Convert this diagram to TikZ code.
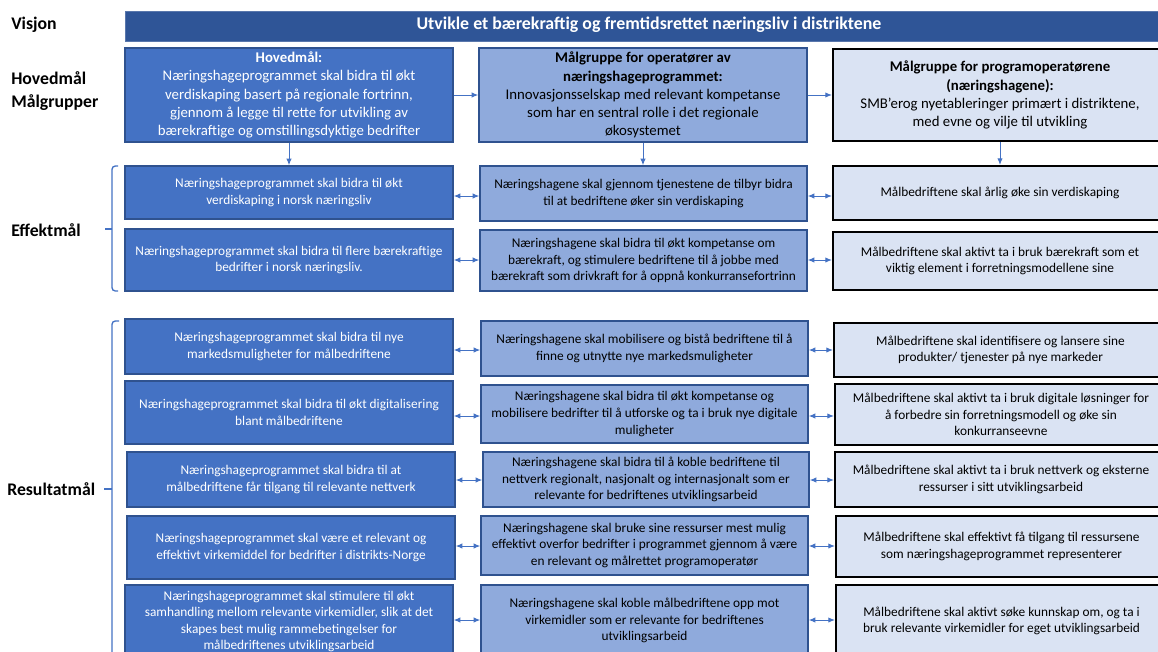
\documentclass[tikz,border=0pt]{standalone}
\usepackage{fontspec}
\setmainfont{Carlito}
\usetikzlibrary{arrows.meta,calc}
\definecolor{visblue}{HTML}{2F5597}
\definecolor{lblue}{HTML}{4472C4}
\definecolor{lborder}{HTML}{2F528F}
\definecolor{mblue}{HTML}{8FAADC}
\definecolor{rblue}{HTML}{DAE3F3}
\definecolor{arr}{HTML}{4472C4}
\newcommand\bx[7]{\node[#6, minimum width={(#4-#2)*0.75pt}, minimum height={(#5-#3)*0.75pt}] (#1) at ({(#2+#4)/2},{(#3+#5)/2}) {#7};}
\tikzset{
  basebox/.style={align=center, inner sep=0pt, font=\fontsize{10}{12.4}\selectfont},
  topfont/.style={font=\fontsize{11.1}{13.6}\selectfont},
  lbox/.style={basebox, draw=lborder, fill=lblue, line width=1pt, text=white},
  mbox/.style={basebox, draw=lborder, fill=mblue, line width=1pt, text=black},
  rbox/.style={basebox, draw=black, fill=rblue, line width=1.5pt, text=black},
  visbar/.style={fill=visblue, draw=visblue!80!white, line width=0.6pt, text=white, inner sep=0pt},
  sidelabel/.style={anchor=west, inner sep=0pt, font=\fontsize{13.3}{17.8}\selectfont\bfseries, align=left},
  conn/.style={draw=arr, line width=0.75pt, -{Latex[length=5pt,width=4pt]}},
  dconn/.style={draw=arr, line width=0.75pt, {Latex[length=5pt,width=4pt]}-{Latex[length=5pt,width=4pt]}},
  bracket/.style={draw=arr, line width=1pt, rounded corners=2.5pt},
}
\begin{document}
\begin{tikzpicture}[x=0.75pt,y=-0.75pt]
\useasboundingbox (0,0) rectangle (1158,651);
\clip (0,0) rectangle (1158,651);
\fill[white] (0,0) rectangle (1158,651);

% side labels
\node[sidelabel] (lvis) at (11,25) {Visjon};
\node[sidelabel] (lhov) at (11,91) {Hovedmål\\Målgrupper};
\node[sidelabel] (leff) at (11,230) {Effektmål};
\node[sidelabel] (lres) at (7,489) {Resultatmål};

% vision bar
\bx{vis}{125}{11}{1172}{41}{visbar}{\hspace*{0pt}}
\node[text=white, font=\fontsize{13.4}{16}\selectfont\bfseries, inner sep=0pt] (vistext) at (649,25) {Utvikle et bærekraftig og fremtidsrettet næringsliv i distriktene};

% top row
\bx{hm}{125}{48}{453}{142}{lbox,topfont}{\textbf{Hovedmål:}\\Næringshageprogrammet skal bidra til økt\\verdiskaping basert på regionale fortrinn,\\gjennom å legge til rette for utvikling av\\bærekraftige og omstillingsdyktige bedrifter}
\bx{mg1}{479}{48}{807}{142}{mbox,topfont}{\textbf{Målgruppe for operatører av}\\\textbf{næringshageprogrammet:}\\Innovasjonsselskap med relevant kompetanse\\som har en sentral rolle i det regionale\\økosystemet}
\bx{mg2}{833}{49}{1167}{141}{rbox,topfont}{\textbf{Målgruppe for programoperatørene}\\\textbf{(næringshagene):}\\SMB’erog nyetableringer primært i distriktene,\\med evne og vilje til utvikling}

% effektmål
\bx{e1l}{125}{166}{453}{219}{lbox}{Næringshageprogrammet skal bidra til økt\\verdiskaping i norsk næringsliv}
\bx{e1m}{480}{166}{807}{221}{mbox}{Næringshagene skal gjennom tjenestene de tilbyr bidra\\til at bedriftene øker sin verdiskaping}
\bx{e1r}{833}{166}{1167}{220}{rbox}{Målbedriftene skal årlig øke sin verdiskaping}
\bx{e2l}{125}{229}{453}{291}{lbox}{Næringshageprogrammet skal bidra til flere bærekraftige\\bedrifter i norsk næringsliv.}
\bx{e2m}{480}{230}{807}{291}{mbox}{Næringshagene skal bidra til økt kompetanse om\\bærekraft, og stimulere bedriftene til å jobbe med\\bærekraft som drivkraft for å oppnå konkurransefortrinn}
\bx{e2r}{833}{232}{1167}{290}{rbox}{Målbedriftene skal aktivt ta i bruk bærekraft som et\\viktig element i forretningsmodellene sine}

% resultatmål
\bx{r1l}{125}{319}{453}{374}{lbox}{Næringshageprogrammet skal bidra til nye\\markedsmuligheter for målbedriftene}
\bx{r1m}{481}{321}{808}{376}{mbox}{Næringshagene skal mobilisere og bistå bedriftene til å\\finne og utnytte nye markedsmuligheter}
\bx{r1r}{834}{323}{1167}{377}{rbox}{Målbedriftene skal identifisere og lansere sine\\produkter/ tjenester på nye markeder}
\bx{r2l}{125}{381}{453}{444}{lbox}{Næringshageprogrammet skal bidra til økt digitalisering\\blant målbedriftene}
\bx{r2m}{481}{385}{808}{443}{mbox}{Næringshagene skal bidra til økt kompetanse og\\mobilisere bedrifter til å utforske og ta i bruk nye digitale\\muligheter}
\bx{r2r}{835}{384}{1167}{445}{rbox}{Målbedriftene skal aktivt ta i bruk digitale løsninger for\\å forbedre sin forretningsmodell og øke sin\\konkurranseevne}
\bx{r3l}{127}{452}{455}{507}{lbox}{Næringshageprogrammet skal bidra til at\\målbedriftene får tilgang til relevante nettverk}
\bx{r3m}{483}{452}{809}{507}{mbox}{Næringshagene skal bidra til å koble bedriftene til\\nettverk regionalt, nasjonalt og internasjonalt som er\\relevante for bedriftenes utviklingsarbeid}
\bx{r3r}{835}{452}{1167}{507}{rbox}{Målbedriftene skal aktivt ta i bruk nettverk og eksterne\\ressurser i sitt utviklingsarbeid}
\bx{r4l}{127}{516}{455}{579}{lbox}{Næringshageprogrammet skal være et relevant og\\effektivt virkemiddel for bedrifter i distrikts-Norge}
\bx{r4m}{481}{516}{808}{575}{mbox}{Næringshagene skal bruke sine ressurser mest mulig\\effektivt overfor bedrifter i programmet gjennom å være\\en relevant og målrettet programoperatør}
\bx{r4r}{836}{516}{1167}{577}{rbox}{Målbedriftene skal effektivt få tilgang til ressursene\\som næringshageprogrammet representerer}
\bx{r5l}{125}{585}{453}{658}{lbox}{Næringshageprogrammet skal stimulere til økt\\samhandling mellom relevante virkemidler, slik at det\\skapes best mulig rammebetingelser for\\målbedriftenes utviklingsarbeid}
\bx{r5m}{481}{585}{808}{656}{mbox}{Næringshagene skal koble målbedriftene opp mot\\virkemidler som er relevante for bedriftenes\\utviklingsarbeid}
\bx{r5r}{836}{585}{1167}{657}{rbox}{Målbedriftene skal aktivt søke kunnskap om, og ta i\\bruk relevante virkemidler for eget utviklingsarbeid}

% top connectors
\draw[conn] (hm.east) -- (hm.east -| mg1.west);
\draw[conn] (mg1.east) -- (mg1.east -| mg2.west);
\draw[conn] (hm.south) -- (hm.south |- e1l.north);
\draw[conn] (mg1.south) -- (mg1.south |- e1m.north);
\draw[conn] (mg2.south) -- (mg2.south |- e1r.north);

% double connectors
\foreach \r/\yy in {e1/196, e2/260, r1/350, r2/416, r3/480, r4/546, r5/620} {
  \coordinate (\r a) at (\r l.east |- 0,\yy);
  \draw[dconn] (\r a) -- (\r a -| \r m.west);
  \coordinate (\r b) at (\r m.east |- 0,\yy);
  \draw[dconn] (\r b) -- (\r b -| \r r.west);
}

% brackets
\coordinate (bE1) at (118,166);
\coordinate (bE2) at (118,291);
\coordinate (bEm) at (105,229);
\draw[bracket] (bE1) -- (112,166) -- (112,291) -- (bE2);
\draw[draw=arr, line width=1pt] (112,229) -- (bEm);
\coordinate (bR1) at (119,321);
\coordinate (bR2) at (119,657);
\coordinate (bRm) at (104,489);
\draw[bracket] (bR1) -- (112,321) -- (112,657) -- (bR2);
\draw[draw=arr, line width=1pt] (112,489) -- (bRm);
\end{tikzpicture}
\end{document}
